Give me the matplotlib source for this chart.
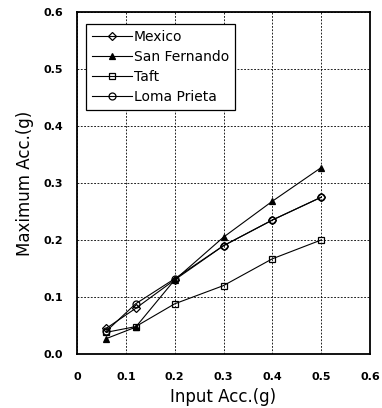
import matplotlib
matplotlib.use("Agg")
import matplotlib.pyplot as plt

plt.rcParams['font.family'] = ['DejaVu Sans']

# data
input_acc = [0.06, 0.12, 0.2, 0.3, 0.4, 0.5]
mexico = [0.045, 0.080, 0.130, 0.190, 0.235, 0.275]
san_fernando = [0.027, 0.047, 0.130, 0.205, 0.268, 0.327]
taft = [0.038, 0.048, 0.088, 0.120, 0.167, 0.200]
loma_prieta = [0.040, 0.088, 0.132, 0.190, 0.235, 0.275]
ticks = [0, 0.1, 0.2, 0.3, 0.4, 0.5, 0.6]

fig = plt.figure(figsize=(3.82, 4.08), dpi=100)
ax = fig.add_axes([0.2016, 0.1324, 0.767, 0.8382])

kw = dict(color='black', lw=0.8, markersize=5, markerfacecolor='none', markeredgewidth=0.9)
ax.plot(input_acc, mexico, marker='D', label='Mexico', **dict(kw, markersize=4.5))
ax.plot(input_acc, san_fernando, marker='^', label='San Fernando', **dict(kw, markerfacecolor='black'))
ax.plot(input_acc, taft, marker='s', label='Taft', **dict(kw, markersize=4.5))
ax.plot(input_acc, loma_prieta, marker='o', label='Loma Prieta', **kw)

ax.set_xlim(0, 0.6)
ax.set_ylim(0, 0.6)
ax.set_xticks(ticks)
ax.set_xticklabels(['0', '0.1', '0.2', '0.3', '0.4', '0.5', '0.6'])
ax.set_yticks(ticks)
ax.set_yticklabels(['0.0', '0.1', '0.2', '0.3', '0.4', '0.5', '0.6'])
ax.tick_params(length=0, labelsize=8)
ax.tick_params(axis='x', pad=13)
ax.tick_params(axis='y', pad=10)
for t in ax.get_xticklabels() + ax.get_yticklabels():
    t.set_fontweight('bold')
ax.grid(True, color='black', linestyle=(0, (2.2, 1.8)), lw=0.6)
for s in ax.spines.values():
    s.set_linewidth(1.3)

ax.set_xlabel('Input Acc.(g)', fontsize=12, labelpad=4)
ax.set_ylabel('Maximum Acc.(g)', fontsize=12, labelpad=7)

leg = ax.legend(loc='upper left', bbox_to_anchor=(0.031, 0.965), fontsize=10,
                frameon=True, fancybox=False, edgecolor='black', framealpha=1,
                handlelength=2.9, borderaxespad=0, borderpad=0.4,
                labelspacing=0.45, handletextpad=0.15)
leg.get_frame().set_linewidth(0.9)

fig.savefig('out.png', dpi=100)
